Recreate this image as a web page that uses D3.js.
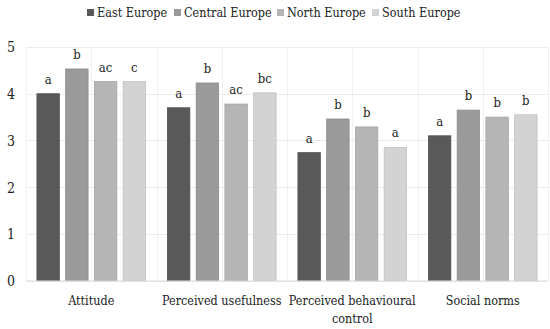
<!DOCTYPE html>
<html lang="en">
<head>
<meta charset="UTF-8">
<title>Bars by region</title>
<style>
  body { margin: 0; background: #fff; }
  svg text { font-family: "DejaVu Serif Condensed", "DejaVu Serif", serif; font-stretch: condensed; fill: #222; }
</style>
</head>
<body>
<svg id="chart" width="550" height="329"></svg>
<script src="https://d3js.org/d3.v7.min.js"></script>
<script>
// data
var categories = ["Attitude", "Perceived usefulness", "Perceived behavioural control", "Social norms"];
var regions = ["East Europe", "Central Europe", "North Europe", "South Europe"];
var colors = ["#595959", "#9a9a9a", "#b5b5b5", "#d3d3d3"];
var eastValues    = [4.00, 3.70, 2.74, 3.10];
var centralValues = [4.53, 4.23, 3.46, 3.65];
var northValues   = [4.26, 3.78, 3.29, 3.50];
var southValues   = [4.26, 4.02, 2.85, 3.55];
var eastLetters    = ["a", "a", "a", "a"];
var centralLetters = ["b", "b", "b", "b"];
var northLetters   = ["ac", "ac", "b", "b"];
var southLetters   = ["c", "bc", "a", "b"];
var yTicks = [0, 1, 2, 3, 4, 5];

var series = [eastValues, centralValues, northValues, southValues];
var letters = [eastLetters, centralLetters, northLetters, southLetters];

var rows = [];
categories.forEach(function(c, ci) {
  regions.forEach(function(r, ri) {
    rows.push({cat: c, region: r, value: series[ri][ci], letter: letters[ri][ci], ri: ri});
  });
});

var svg = d3.select("#chart");
var margin = {left: 26, right: 2, top: 47, bottom: 48};
var width = 550 - margin.left - margin.right;
var height = 329 - margin.top - margin.bottom - 0.3;

var g = svg.append("g").attr("transform", "translate(" + margin.left + "," + margin.top + ")");

var x0 = d3.scaleBand().domain(categories).range([0, width]).paddingInner(0).paddingOuter(0);
var x1 = d3.scaleBand().domain(regions).range([0, x0.bandwidth()]).paddingInner(0.22).paddingOuter(0.38);
var y = d3.scaleLinear().domain([0, 5]).range([height, 0]);
var color = d3.scaleOrdinal().domain(regions).range(colors);

// horizontal gridlines
g.selectAll(".hgrid").data(yTicks.slice(1)).enter()
  .append("line")
  .attr("x1", 0).attr("x2", width)
  .attr("y1", function(d) { return Math.round(y(d)) + 0.5; })
  .attr("y2", function(d) { return Math.round(y(d)) + 0.5; })
  .attr("stroke", "#ececec").attr("stroke-width", 1);

// vertical gridlines at half categories
var vx = d3.range(0, categories.length * 2 + 1).map(function(i) { return i * x0.bandwidth() / 2; });
g.selectAll(".vgrid").data(vx).enter()
  .append("line")
  .attr("x1", function(d) { return Math.round(d) + 0.5; })
  .attr("x2", function(d) { return Math.round(d) + 0.5; })
  .attr("y1", 0).attr("y2", height)
  .attr("stroke", "#f0f0f0").attr("stroke-width", 1);

// y axis
var yAxis = g.append("g").call(d3.axisLeft(y).tickValues(yTicks).tickFormat(d3.format("d")).tickSize(0).tickPadding(11));
yAxis.attr("font-family", null);
yAxis.select(".domain").remove();
yAxis.selectAll("text").style("font-size", "14px").attr("dy", "0.35em");

// bars
var bars = g.selectAll(".bar").data(rows).enter().append("g");
bars.append("rect")
  .attr("x", function(d) { return x0(d.cat) + x1(d.region); })
  .attr("y", function(d) { return y(d.value); })
  .attr("width", x1.bandwidth())
  .attr("height", function(d) { return height - y(d.value); })
  .attr("fill", function(d) { return color(d.region); })
  .attr("stroke", function(d) { return d3.color(color(d.region)).darker(0.25); })
  .attr("stroke-width", 0.8);

bars.append("text")
  .attr("x", function(d) { return x0(d.cat) + x1(d.region) + x1.bandwidth() / 2; })
  .attr("y", function(d) { return y(d.value) - 10; })
  .attr("text-anchor", "middle")
  .style("font-size", "13px")
  .text(function(d) { return d.letter; });

// x axis line
g.append("line")
  .attr("x1", 0).attr("x2", width)
  .attr("y1", height + 0.5).attr("y2", height + 0.5)
  .attr("stroke", "#d9d9d9").attr("stroke-width", 1.2);

// category labels (wrapped like the original)
var catLines = {"Perceived behavioural control": ["Perceived behavioural", "control"]};
categories.forEach(function(c) {
  var lines = catLines[c] || [c];
  var t = g.append("text")
    .attr("x", x0(c) + x0.bandwidth() / 2)
    .attr("y", height + 24)
    .attr("text-anchor", "middle")
    .style("font-size", "12.5px");
  lines.forEach(function(l, i) {
    t.append("tspan").attr("x", x0(c) + x0.bandwidth() / 2).attr("dy", i === 0 ? 0 : 18).text(l);
  });
});

// legend
var legendX = [87, 174, 277, 372];
var legend = svg.append("g");
regions.forEach(function(r, i) {
  legend.append("rect").attr("x", legendX[i]).attr("y", 9).attr("width", 7).attr("height", 7).attr("fill", color(r));
  legend.append("text").attr("x", legendX[i] + 10).attr("y", 17).style("font-size", "12.5px").text(r);
});
</script>
</body>
</html>
